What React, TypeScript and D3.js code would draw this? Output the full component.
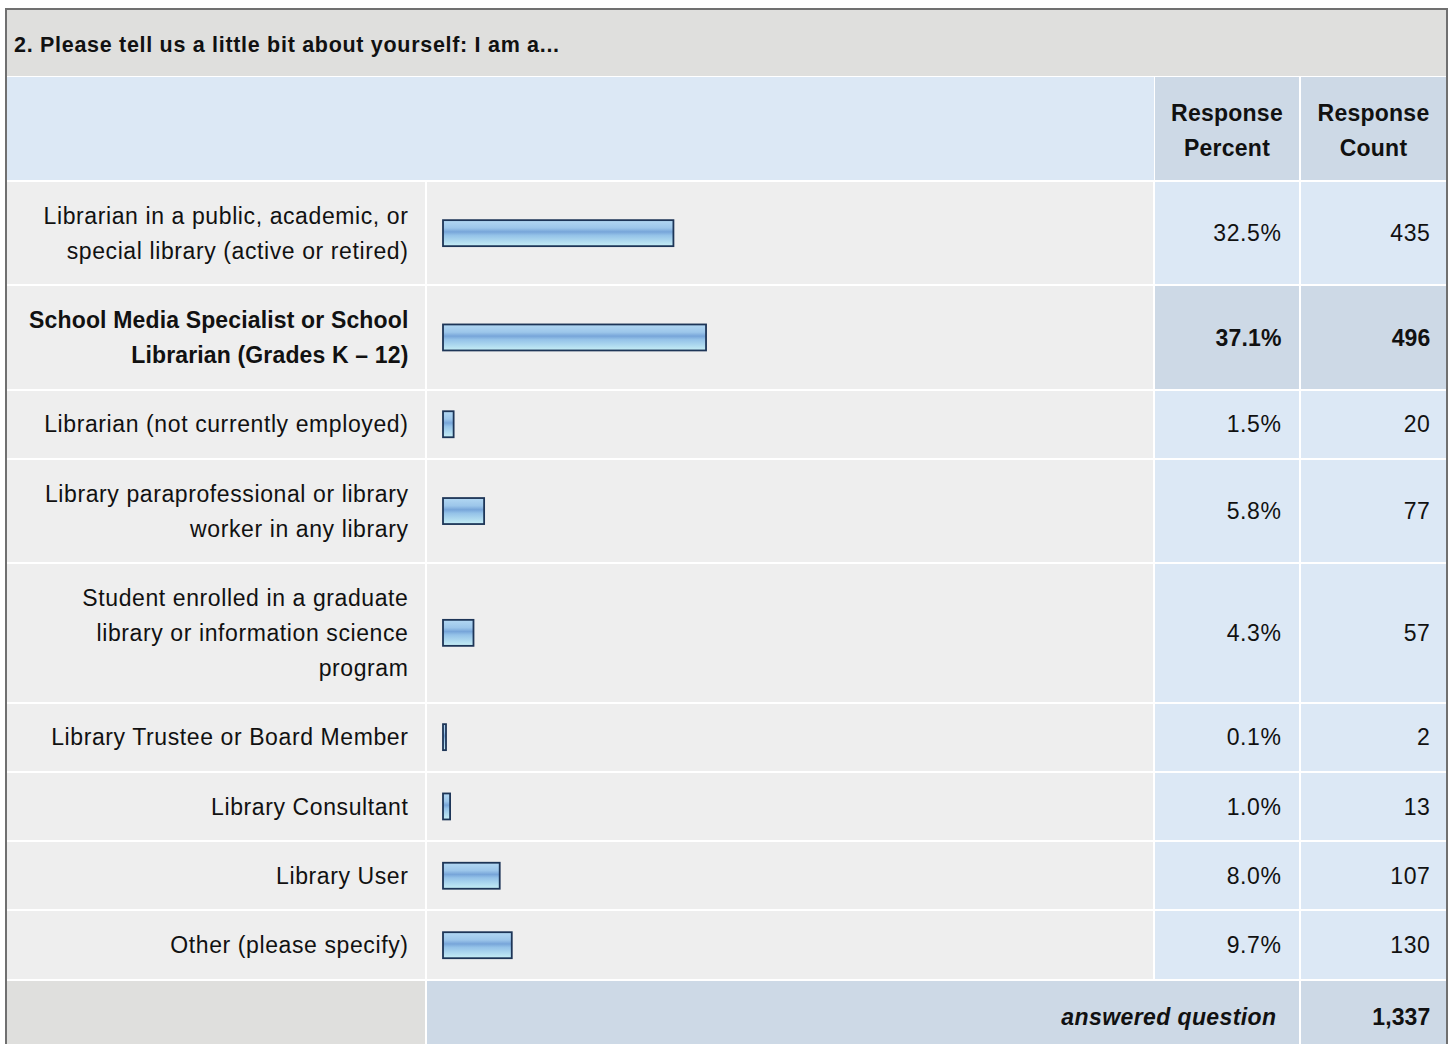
import React from "react";
import * as d3 from "d3";

const title = "2. Please tell us a little bit about yourself: I am a...";
const labels: string[][] = [
  ["Librarian in a public, academic, or", "special library (active or retired)"],
  ["School Media Specialist or School", "Librarian (Grades K \u2013 12)"],
  ["Librarian (not currently employed)"],
  ["Library paraprofessional or library", "worker in any library"],
  ["Student enrolled in a graduate", "library or information science", "program"],
  ["Library Trustee or Board Member"],
  ["Library Consultant"],
  ["Library User"],
  ["Other (please specify)"],
];
const percents = [32.5, 37.1, 1.5, 5.8, 4.3, 0.1, 1.0, 8.0, 9.7];
const counts = [435, 496, 20, 77, 57, 2, 13, 107, 130];
const answered = 1337;

const font = "'Liberation Sans', Arial, sans-serif";
const fs = 23;
const ls = 0.6; // regular text spacing
const lsb = 0.15; // bold text spacing

export default function App() {
  const W = 1452;
  const H = 1044;
  // column edges
  const colL = 7;
  const colBar = 427;
  const colPct = 1155;
  const colCnt = 1301;
  const colR = 1446;
  const lineH = 35;

  const x = d3.scaleLinear().domain([0, 100]).range([0, 709]);
  const barX0 = 443;
  const barH = 26;
  const maxIdx = d3.maxIndex(percents);

  const rowTop: number[] = [];
  let y = 182;
  labels.forEach((l) => {
    rowTop.push(y);
    y += l.length * lineH + 34.3;
  });
  const footerTop = Math.round(y);

  return (
    <svg
      width={W}
      height={H}
      style={{ position: "absolute", left: 0, top: 0, background: "#fff" }}
      fontFamily={font}
    >
      <defs>
        <linearGradient id="barGrad" x1="0" y1="0" x2="0" y2="1">
          <stop offset="0%" stopColor="#b3d8f3" />
          <stop offset="30%" stopColor="#9cc6ea" />
          <stop offset="45%" stopColor="#77a5d9" />
          <stop offset="58%" stopColor="#94c2e8" />
          <stop offset="100%" stopColor="#c6eef5" />
        </linearGradient>
      </defs>

      {/* title row */}
      <rect x={colL} y={10} width={colR - colL} height={66} fill="#dfdfdd" />
      <text x={14} y={44} dy="0.35em" fontSize={21.5} letterSpacing={0.7} fontWeight="bold" fill="#111">
        {title}
      </text>

      {/* header row */}
      <rect x={colL} y={77} width={colPct - 1 - colL} height={103} fill="#dce8f5" />
      <rect x={colPct} y={77} width={colCnt - 2 - colPct} height={103} fill="#cdd9e6" />
      <rect x={colCnt} y={77} width={colR - colCnt} height={103} fill="#cdd9e6" />
      {[
        ["Response", "Percent"],
        ["Response", "Count"],
      ].map((h, i) => {
        const cx = i === 0 ? (colPct + colCnt - 2) / 2 : (colCnt + colR) / 2;
        return h.map((t, j) => (
          <text
            key={`${i}-${j}`}
            x={cx}
            y={130.5 + (j - 0.5) * lineH}
            dy="0.35em"
            textAnchor="middle"
            fontSize={fs}
            letterSpacing={0.25}
            fontWeight="bold"
            fill="#111"
          >
            {t}
          </text>
        ));
      })}

      {/* data rows */}
      {labels.map((lab, i) => {
        const top = rowTop[i];
        const next = i < labels.length - 1 ? rowTop[i + 1] : footerTop;
        const h = Math.round(next) - Math.round(top) - 2;
        const t0 = Math.round(top);
        const cy = top + (next - top - 2) / 2;
        const hi = i === maxIdx;
        const bw = Math.max(x(percents[i]), 3);
        return (
          <g key={i}>
            <rect x={colL} y={t0} width={colBar - 2 - colL} height={h} fill="#eeeeee" />
            <rect x={colBar} y={t0} width={colPct - 2 - colBar} height={h} fill="#eeeeee" />
            <rect x={colPct} y={t0} width={colCnt - 2 - colPct} height={h} fill={hi ? "#cdd9e6" : "#dce8f5"} />
            <rect x={colCnt} y={t0} width={colR - colCnt} height={h} fill={hi ? "#cdd9e6" : "#dce8f5"} />
            {lab.map((t, j) => (
              <text
                key={j}
                x={408.5}
                y={cy + (j - (lab.length - 1) / 2) * lineH}
                dy="0.35em"
                textAnchor="end"
                fontSize={fs}
                letterSpacing={hi ? lsb : ls}
                fontWeight={hi ? "bold" : "normal"}
                fill="#111"
              >
                {t}
              </text>
            ))}
            <rect
              x={barX0}
              y={cy - barH / 2}
              width={bw}
              height={barH}
              fill="url(#barGrad)"
              stroke="#1d3557"
              strokeWidth={1.8}
            />
            <text
              x={1281.5}
              y={cy}
              dy="0.35em"
              textAnchor="end"
              fontSize={fs}
              letterSpacing={hi ? lsb : ls}
              fontWeight={hi ? "bold" : "normal"}
              fill="#111"
            >
              {percents[i].toFixed(1)}%
            </text>
            <text
              x={1430.5}
              y={cy}
              dy="0.35em"
              textAnchor="end"
              fontSize={fs}
              letterSpacing={hi ? lsb : ls}
              fontWeight={hi ? "bold" : "normal"}
              fill="#111"
            >
              {counts[i]}
            </text>
          </g>
        );
      })}

      {/* footer */}
      <rect x={colL} y={footerTop} width={colBar - 2 - colL} height={H - footerTop} fill="#dfdfdd" />
      <rect x={colBar} y={footerTop} width={colCnt - 2 - colBar} height={H - footerTop} fill="#cdd9e6" />
      <rect x={colCnt} y={footerTop} width={colR - colCnt} height={H - footerTop} fill="#cdd9e6" />
      <text
        x={1276.5}
        y={footerTop + 36}
        dy="0.35em"
        textAnchor="end"
        fontSize={fs}
        letterSpacing={0.4}
        fontWeight="bold"
        fontStyle="italic"
        fill="#111"
      >
        answered question
      </text>
      <text
        x={1430.5}
        y={footerTop + 36}
        dy="0.35em"
        textAnchor="end"
        fontSize={fs}
        letterSpacing={lsb}
        fontWeight="bold"
        fill="#111"
      >
        {d3.format(",")(answered)}
      </text>

      {/* outer border */}
      <path
        d={`M6,${H + 2}V9H1447V${H + 2}`}
        fill="none"
        stroke="#707070"
        strokeWidth={2}
      />
    </svg>
  );
}
